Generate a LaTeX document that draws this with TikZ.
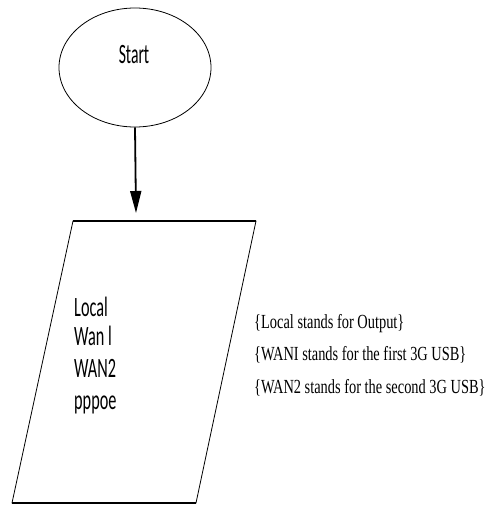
\documentclass[tikz,border=0pt]{standalone}
\usepackage{fontspec}
\setmainfont{Liberation Serif}
\newfontfamily\lblfont{Carlito}
\usetikzlibrary{arrows.meta,shapes.geometric}
\newcommand{\lbltxt}[1]{\scalebox{0.58}[1]{#1}}
\newcommand{\notetxt}[1]{\scalebox{0.72}[1]{#1}}
\begin{document}
\begin{tikzpicture}[x=1pt,y=-1pt,
  lbl/.style={font=\lblfont\fontsize{28}{30}\selectfont, inner sep=0pt, anchor=base west},
  note/.style={font=\fontsize{20}{22}\selectfont, inner sep=0pt, anchor=base west},
  shapeline/.style={draw=black, line width=0.8pt}]
\useasboundingbox (0,0) rectangle (492,506);
\node[shapeline, ellipse, minimum width=152, minimum height=119, inner sep=0pt] (start) at (135,67.5) {};
\node[font=\lblfont\fontsize{28}{30}\selectfont, inner sep=0pt, anchor=base] (starttxt) at (134,63) {\scalebox{0.56}[1]{Start}};
\coordinate (pTL) at (73,221);
\coordinate (pTR) at (256,221);
\coordinate (pBR) at (196,503);
\coordinate (pBL) at (12,503);
\draw[shapeline] (pTL) -- (pTR) -- (pBR) -- (pBL) -- cycle;
\draw[line width=1.4pt] (pTL) -- (pTR);
\draw[line width=1.2pt] (pBL) -- (pBR);
\coordinate (ptop) at (136,213);
\draw[line width=1.8pt, -{Triangle[length=22pt,width=11pt]}] (start.south) -- (ptop);
\node[lbl] (l1) at (74,316) {\lbltxt{Local}};
\node[lbl] (l2) at (74,345) {\lbltxt{Wan l}};
\node[lbl] (l3) at (74,377) {\lbltxt{WAN2}};
\node[lbl] (l4) at (74,409) {\lbltxt{pppoe}};
\node[note] (n1) at (254,328) {\notetxt{\{Local stands for Output\}}};
\node[note] (n2) at (254,360) {\notetxt{\{WANI stands for the first 3G USB\}}};
\node[note] (n3) at (254,393) {\notetxt{\{WAN2 stands for the second 3G USB\}}};
\end{tikzpicture}
\end{document}
